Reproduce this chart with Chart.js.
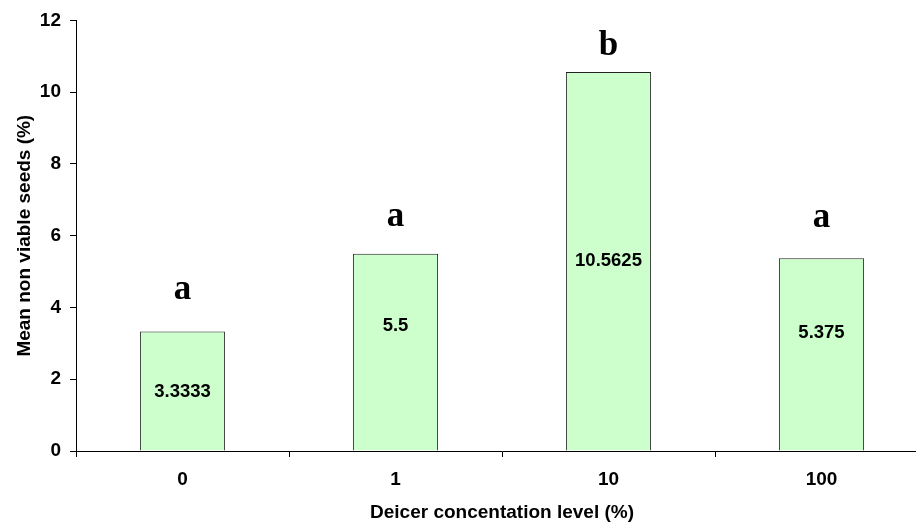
<!DOCTYPE html>
<html>
<head>
<meta charset="utf-8">
<script src="https://cdn.jsdelivr.net/npm/chart.js@4/dist/chart.umd.min.js"></script>
<style>
html, body { margin: 0; padding: 0; background: #fff; overflow: hidden; }
#wrap { width: 940px; height: 527px; }
</style>
</head>
<body>
<div id="wrap"><canvas id="chart" width="940" height="527"></canvas></div>
<script>
// data
const levels = ["0", "1", "10", "100"];
const meanNonViable = [3.3333, 5.5, 10.5625, 5.375];
const valueText = ["3.3333", "5.5", "10.5625", "5.375"];
// significance letters and the heights (in % units) where they sit
const groupLetters = ["a", "a", "b", "a"];
const letterLevel = [4.49, 6.52, 11.3, 6.49];
// where the value labels sit inside the bars (% units)
const valueLevel = [1.65, 3.48, 5.3, 3.28];

const labelPlugin = {
  id: "barLabels",
  afterDatasetsDraw(chart) {
    const ctx = chart.ctx;
    const x = chart.scales.x;
    const y = chart.scales.y;
    ctx.save();
    ctx.fillStyle = "#000";
    ctx.textAlign = "center";
    ctx.textBaseline = "middle";
    levels.forEach((lv, i) => {
      const px = x.getPixelForValue(i);
      ctx.font = "bold 18.5px Arial, 'Liberation Sans', sans-serif";
      ctx.fillText(valueText[i], px, y.getPixelForValue(valueLevel[i]));
      ctx.font = "bold 35px 'Times New Roman', 'Liberation Serif', serif";
      ctx.fillText(groupLetters[i], px, y.getPixelForValue(letterLevel[i]));
    });
    ctx.restore();
  }
};

const tickFont = { family: "Arial, 'Liberation Sans', sans-serif", size: 19, weight: "bold" };
const titleFont = { family: "Arial, 'Liberation Sans', sans-serif", size: 19, weight: "bold" };

new Chart(document.getElementById("chart"), {
  type: "bar",
  data: {
    labels: levels,
    datasets: [{
      data: meanNonViable,
      backgroundColor: "#CCFFCC",
      borderColor: "#222",
      borderWidth: 1,
      barPercentage: 0.4,
      categoryPercentage: 1
    }]
  },
  options: {
    responsive: false,
    animation: false,
    devicePixelRatio: 1,
    layout: { padding: { top: 20, right: 12, left: 0, bottom: 0 } },
    plugins: { legend: { display: false }, tooltip: { enabled: false } },
    scales: {
      x: {
        grid: { display: true, drawOnChartArea: false, drawTicks: true, tickLength: 6, color: "#000", offset: true },
        border: { color: "#000", width: 1 },
        ticks: { color: "#000", font: tickFont, padding: 11 },
        title: { display: true, text: "Deicer concentation level (%)", color: "#000", font: titleFont, padding: { top: 0, bottom: 3 } },
        afterFit(scale) { scale.height = 76; }
      },
      y: {
        min: 0,
        max: 12,
        grid: { display: true, drawOnChartArea: false, drawTicks: true, tickLength: 6, color: "#000" },
        border: { color: "#000", width: 1 },
        ticks: { stepSize: 2, color: "#000", font: tickFont, padding: 9 },
        title: { display: true, text: "Mean non viable seeds (%)", color: "#000", font: titleFont, padding: { top: 13, bottom: 0 } },
        afterFit(scale) { scale.width = 76; }
      }
    }
  },
  plugins: [labelPlugin]
});
</script>
</body>
</html>
